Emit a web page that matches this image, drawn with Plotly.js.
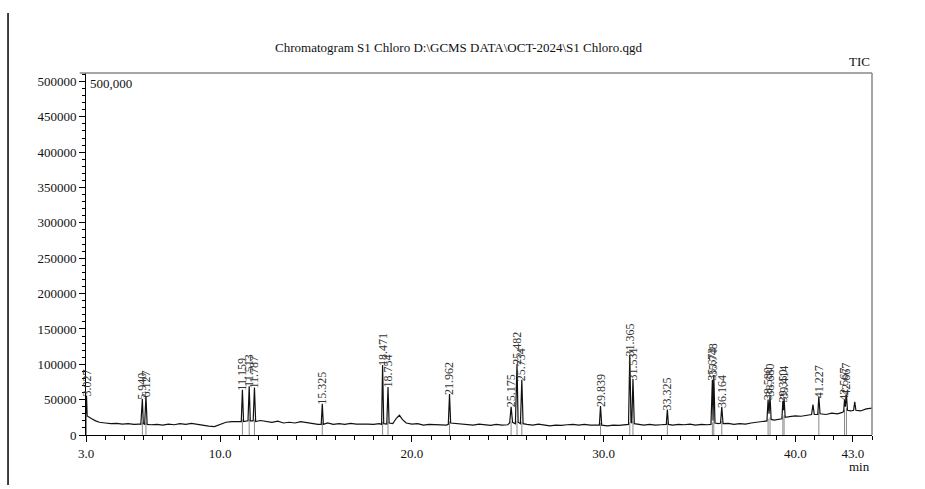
<!DOCTYPE html>
<html>
<head>
<meta charset="utf-8">
<script src="https://cdn.plot.ly/plotly-3.0.1.min.js"></script>
<style>
  html, body { margin: 0; padding: 0; background: #fff; }
  #chart { width: 925px; height: 489px; }
</style>
</head>
<body>
<div id="chart"></div>
<script>
// Total ion chromatogram (time in min, intensity in counts)
const signalTime = [
  3.00, 3.027, 3.06, 3.15, 3.3, 3.5, 3.7, 4.0, 4.3, 4.6, 4.9, 5.2, 5.5, 5.8, 5.86, 5.94, 5.99, 6.06, 6.127, 6.19,
  6.4, 6.7, 7.0, 7.3, 7.6, 7.9, 8.2, 8.5, 8.8, 9.1, 9.4, 9.7, 10.0, 10.3, 10.6, 10.9, 11.10, 11.159, 11.22, 11.45,
  11.513, 11.57, 11.72, 11.787, 11.85, 12.1, 12.4, 12.7, 13.0, 13.3, 13.6, 13.9, 14.2, 14.5, 14.8, 15.1, 15.27, 15.325, 15.38, 15.6,
  15.9, 16.2, 16.5, 16.8, 17.1, 17.4, 17.7, 18.0, 18.3, 18.42, 18.471, 18.53, 18.69, 18.754, 18.81, 19.0, 19.2, 19.35, 19.5, 19.7,
  20.0, 20.3, 20.6, 20.9, 21.2, 21.5, 21.8, 21.90, 21.962, 22.02, 22.3, 22.6, 22.9, 23.2, 23.5, 23.8, 24.1, 24.4, 24.7, 25.0,
  25.1, 25.175, 25.25, 25.40, 25.482, 25.54, 25.66, 25.734, 25.80, 26.0, 26.3, 26.6, 26.9, 27.2, 27.5, 27.8, 28.1, 28.4, 28.7, 29.0,
  29.3, 29.6, 29.78, 29.839, 29.90, 30.2, 30.5, 30.8, 31.1, 31.30, 31.365, 31.43, 31.47, 31.531, 31.60, 31.8, 32.1, 32.4, 32.7, 33.0,
  33.27, 33.325, 33.38, 33.6, 33.9, 34.2, 34.5, 34.8, 35.1, 35.4, 35.60, 35.673, 35.71, 35.748, 35.81, 36.0, 36.10, 36.164, 36.23, 36.5,
  36.8, 37.1, 37.4, 37.7, 38.0, 38.3, 38.52, 38.580, 38.63, 38.680, 38.74, 38.9, 39.1, 39.30, 39.350, 39.38, 39.414, 39.47, 39.7, 40.0,
  40.3, 40.6, 40.85, 40.92, 40.99, 41.17, 41.227, 41.29, 41.6, 41.9, 42.2, 42.45, 42.52, 42.567, 42.61, 42.667, 42.72, 42.9, 43.04, 43.10,
  43.16, 43.4, 43.7, 44.0
];
const signalTic = [
  30000, 56000, 27000, 25000, 23000, 20000, 18000, 17000, 16000, 16500, 15500, 16000, 15000, 15500, 15000, 51000, 16000, 15000, 55000, 15000,
  14500, 15000, 14000, 15500, 14500, 16000, 15000, 16500, 15000, 14500, 12500, 12000, 14500, 18000, 19000, 18500, 19000, 64000, 19000, 20000,
  69000, 20000, 20000, 67000, 19000, 20500, 19000, 18000, 19500, 17000, 18000, 17000, 19000, 17500, 16000, 15000, 15000, 44000, 15000, 17000,
  15000, 16000, 15000, 16500, 15500, 16000, 15500, 15000, 16000, 15000, 99000, 16000, 15500, 68000, 17000, 16000, 24000, 28000, 22000, 17000,
  15500, 16000, 14000, 15000, 14500, 15000, 14000, 15000, 58000, 17000, 16500, 15000, 15500, 14000, 15500, 14500, 13500, 15000, 14000, 14500,
  17000, 40000, 18000, 16000, 100000, 18000, 16000, 78000, 16000, 15000, 14000, 15500, 14000, 13000, 14000, 13500, 14500, 15000, 14000, 15000,
  14000, 13500, 14000, 41000, 14000, 13000, 14000, 13500, 14000, 15000, 113000, 18000, 17000, 79000, 16000, 15000, 14000, 15000, 14000, 14500,
  15000, 36000, 15000, 14000, 15000, 14500, 15500, 14000, 15000, 14500, 15000, 78000, 20000, 85000, 17000, 16000, 17000, 40000, 16000, 16500,
  15000, 16000, 15500, 17000, 18000, 19000, 20000, 50000, 30000, 55000, 22000, 21000, 22000, 23000, 48000, 35000, 52000, 25000, 26000, 27000,
  26500, 28000, 29000, 43000, 29000, 29000, 54000, 30000, 29000, 31000, 30000, 32000, 33000, 50000, 40000, 57000, 35000, 34000, 35000, 47000,
  35000, 34000, 37000, 38000
];

// Labelled peaks
const peakLabels = ["3.027", "5.940", "6.127", "11.159", "11.513", "11.787", "15.325", "18.471", "18.754", "21.962",
  "25.175", "25.482", "25.734", "29.839", "31.365", "31.531", "33.325", "35.673", "35.748", "36.164",
  "38.580", "38.680", "39.350", "39.414", "41.227", "42.567", "42.667"];
const peakTime = [3.027, 5.940, 6.127, 11.159, 11.513, 11.787, 15.325, 18.471, 18.754, 21.962,
  25.175, 25.482, 25.734, 29.839, 31.365, 31.531, 33.325, 35.673, 35.748, 36.164,
  38.580, 38.680, 39.350, 39.414, 41.227, 42.567, 42.667];
const peakHeight = [56000, 51000, 55000, 64000, 69000, 67000, 44000, 99000, 68000, 58000,
  40000, 100000, 78000, 41000, 113000, 79000, 36000, 78000, 85000, 40000,
  50000, 55000, 48000, 52000, 54000, 50000, 57000];
const peakBase = [27000, 15000, 15000, 19000, 20000, 19000, 15000, 15500, 16000, 16000,
  16000, 17000, 16000, 14000, 15000, 16000, 15000, 15000, 17000, 16500,
  20000, 22000, 23000, 25000, 29500, 33000, 35000];

const xTickVals = [3, 10, 20, 30, 40, 43];
const xTickText = ["3.0", "10.0", "20.0", "30.0", "40.0", "43.0"];
const yTickVals = [0, 50000, 100000, 150000, 200000, 250000, 300000, 350000, 400000, 450000, 500000];
const yTickText = ["0", "50000", "100000", "150000", "200000", "250000", "300000", "350000", "400000", "450000", "500000"];

const FONT = "Liberation Serif, Times New Roman, serif";

// integration marks: grey strokes from the axis up to the baseline at each peak
const markX = [], markY = [];
peakTime.forEach((t, i) => { markX.push(t, t, null); markY.push(0, peakBase[i] + 3000, null); });

const traces = [
  { x: markX, y: markY, type: "scatter", mode: "lines",
    line: { color: "#8a8a8a", width: 1 }, hoverinfo: "skip", showlegend: false },
  { x: signalTime, y: signalTic, type: "scatter", mode: "lines",
    line: { color: "#111", width: 1.2 }, hoverinfo: "skip", showlegend: false }
];

const annotations = peakLabels.map((lab, i) => ({
  x: peakTime[i], y: peakHeight[i], xref: "x", yref: "y",
  text: lab, showarrow: false, textangle: -90,
  xanchor: "center", yanchor: "bottom", borderpad: 0, yshift: -2,
  font: { family: FONT, size: 12, color: "#333" }
}));
annotations.push(
  { xref: "paper", yref: "paper", x: 0.003, y: 0.972, xanchor: "left", yanchor: "middle",
    text: "500,000", showarrow: false, font: { family: FONT, size: 13, color: "#111" } },
  { xref: "paper", yref: "paper", x: 1, y: 1.005, xanchor: "right", yanchor: "bottom",
    text: "TIC", showarrow: false, font: { family: FONT, size: 13, color: "#111" } },
  { xref: "paper", yref: "paper", x: 1, y: -0.088, xanchor: "right", yanchor: "middle",
    text: "min", showarrow: false, font: { family: FONT, size: 13, color: "#111" } }
);

const layout = {
  width: 925, height: 489,
  margin: { l: 86, r: 53, t: 73, b: 54 },
  paper_bgcolor: "#fff", plot_bgcolor: "#fff",
  font: { family: FONT, size: 13, color: "#111" },
  title: { text: "Chromatogram S1 Chloro D:\\GCMS DATA\\OCT-2024\\S1 Chloro.qgd",
    x: 0.4957, xanchor: "center", xref: "container", y: 0.902, yanchor: "middle", yref: "container",
    font: { family: FONT, size: 13, color: "#111" } },
  showlegend: false,
  xaxis: {
    range: [3, 44], tickmode: "array", tickvals: xTickVals, ticktext: xTickText,
    ticks: "outside", ticklen: 6, tickcolor: "#000", tickwidth: 1,
    showline: true, linecolor: "#000", linewidth: 1, showgrid: false, zeroline: false,
    tickfont: { family: FONT, size: 13, color: "#111" },
    minor: { tickmode: "linear", tick0: 0, dtick: 1, ticks: "outside", ticklen: 4, tickcolor: "#000", showgrid: false }
  },
  yaxis: {
    range: [0, 512000], tickmode: "array", tickvals: yTickVals, ticktext: yTickText,
    ticks: "outside", ticklen: 6, tickcolor: "#000", tickwidth: 1,
    showline: true, linecolor: "#000", linewidth: 1, showgrid: false, zeroline: false,
    tickfont: { family: FONT, size: 13, color: "#111" },
    minor: { tickmode: "linear", tick0: 0, dtick: 10000, ticks: "outside", ticklen: 3, tickcolor: "#000", showgrid: false }
  },
  shapes: [
    { type: "line", xref: "paper", yref: "paper", x0: -0.008, x1: 1, y0: 1, y1: 1,
      line: { color: "#888", width: 1.5 } },
    { type: "line", xref: "paper", yref: "paper", x0: 1, x1: 1, y0: 0, y1: 1,
      line: { color: "#888", width: 1.5 } },
    { type: "line", xref: "paper", yref: "paper", x0: -0.0992, x1: -0.0992, y0: -0.138, y1: 1.166,
      line: { color: "#000", width: 1.5 } }
  ],
  annotations: annotations
};

Plotly.newPlot("chart", traces, layout, { staticPlot: true, displayModeBar: false });
</script>
</body>
</html>
